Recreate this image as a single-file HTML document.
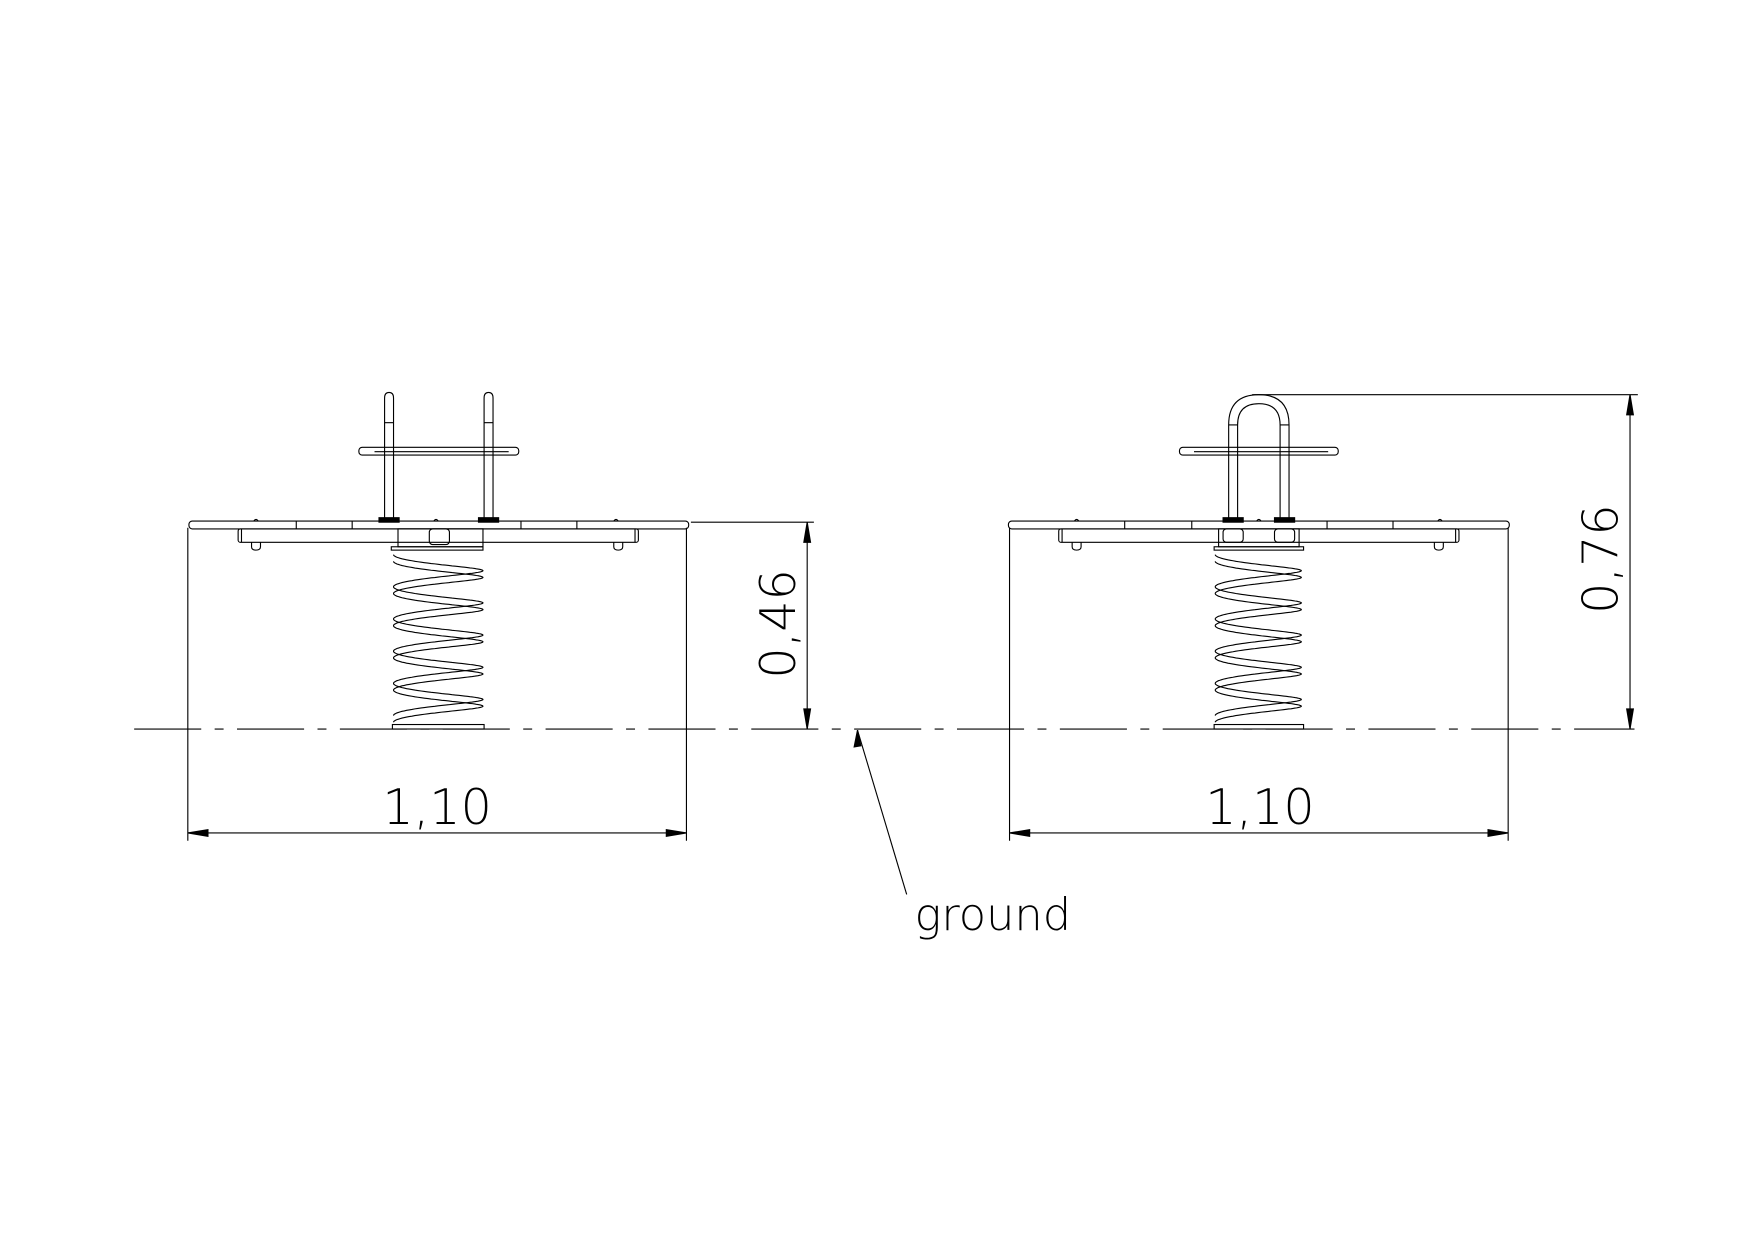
<!DOCTYPE html>
<html><head><meta charset="utf-8"><style>
html,body{margin:0;padding:0;background:#fff;}
svg{display:block;}
text{font-family:"DejaVu Sans","Liberation Sans",sans-serif;fill:#000;font-weight:200;}
</style></head><body>
<svg id="s" width="1753" height="1240" viewBox="0 0 1568 1109" xmlns="http://www.w3.org/2000/svg">
<g fill="none" stroke="#000" stroke-width="1">
<line x1="120" y1="652" x2="1462" y2="652" stroke-dasharray="60,12,8,12"/>
<line x1="767" y1="653" x2="811" y2="800"/>
<polygon points="767,653 764,668 770,667" fill="#000"/>

<line x1="168" y1="472" x2="168" y2="752"/>
<line x1="614" y1="472" x2="614" y2="752"/>
<line x1="168" y1="745" x2="614" y2="745"/>
<polygon points="168,745 186,742 186,748" fill="#000"/>
<polygon points="614,745 596,742 596,748" fill="#000"/>
<line x1="618" y1="467" x2="728" y2="467"/>
<line x1="722" y1="467" x2="722" y2="652"/>
<polygon points="722,467 719,485 725,485" fill="#000"/>
<polygon points="722,652 719,634 725,634" fill="#000"/>
<path d="M344,467 V356 Q344,351 348,351 Q352,351 352,356 V467"/>
<path d="M433,467 V356 Q433,351 437,351 Q441,351 441,356 V467"/>
<line x1="344" y1="378" x2="352" y2="378"/><line x1="433" y1="378" x2="441" y2="378"/>
<rect x="321" y="400" width="143" height="7" rx="3"/>
<line x1="335" y1="404" x2="455" y2="404"/>
<rect x="339" y="463" width="18" height="4" fill="#000"/>
<rect x="428" y="463" width="18" height="4" fill="#000"/>
<rect x="169" y="466" width="447" height="7" rx="3"/>
<line x1="265" y1="466" x2="265" y2="473"/><line x1="315" y1="466" x2="315" y2="473"/><line x1="466" y1="466" x2="466" y2="473"/><line x1="516" y1="466" x2="516" y2="473"/>
<rect x="213" y="473" width="358" height="12" rx="2"/>
<line x1="216" y1="473" x2="216" y2="485"/><line x1="568" y1="473" x2="568" y2="485"/>
<path d="M225,485 v4 q0,3 4,3 q4,0 4,-3 v-4"/><path d="M549,485 v4 q0,3 4,3 q4,0 4,-3 v-4"/>
<path d="M227,466 q2,-3 4,0"/><path d="M388,466 q2,-3 4,0"/><path d="M549,466 q2,-3 4,0"/>
<rect x="356" y="473" width="76" height="16"/>
<rect x="384" y="473" width="18" height="14" rx="3"/>
<rect x="350" y="489" width="82" height="3"/>
<rect x="351" y="648" width="82" height="4"/>
<g id="sp1"></g>

<line x1="903" y1="472" x2="903" y2="752"/>
<line x1="1349" y1="472" x2="1349" y2="752"/>
<line x1="903" y1="745" x2="1349" y2="745"/>
<polygon points="903,745 921,742 921,748" fill="#000"/>
<polygon points="1349,745 1331,742 1331,748" fill="#000"/>
<line x1="1120" y1="353" x2="1465" y2="353"/>
<line x1="1458" y1="353" x2="1458" y2="652"/>
<polygon points="1458,353 1455,371 1461,371" fill="#000"/>
<polygon points="1458,652 1455,634 1461,634" fill="#000"/>
<path d="M1099,467 V380 Q1099,353 1126,353 Q1153,353 1153,380 V467"/>
<path d="M1107,467 V380 Q1107,361 1126,361 Q1145,361 1145,380 V467"/>
<line x1="1099" y1="380" x2="1107" y2="380"/><line x1="1145" y1="380" x2="1153" y2="380"/>
<rect x="1055" y="400" width="142" height="7" rx="3"/>
<line x1="1068" y1="404" x2="1188" y2="404"/>
<rect x="1094" y="463" width="18" height="4" fill="#000"/>
<rect x="1140" y="463" width="18" height="4" fill="#000"/>
<rect x="902" y="466" width="448" height="7" rx="3"/>
<line x1="1006" y1="466" x2="1006" y2="473"/><line x1="1066" y1="466" x2="1066" y2="473"/><line x1="1187" y1="466" x2="1187" y2="473"/><line x1="1246" y1="466" x2="1246" y2="473"/>
<rect x="947" y="473" width="358" height="12" rx="2"/>
<line x1="950" y1="473" x2="950" y2="485"/><line x1="1302" y1="473" x2="1302" y2="485"/>
<path d="M959,485 v4 q0,3 4,3 q4,0 4,-3 v-4"/><path d="M1283,485 v4 q0,3 4,3 q4,0 4,-3 v-4"/>
<path d="M961,466 q2,-3 4,0"/><path d="M1124,466 q2,-3 4,0"/><path d="M1286,466 q2,-3 4,0"/>
<rect x="1090" y="473" width="72" height="16"/>
<rect x="1094" y="473" width="18" height="12" rx="3"/><rect x="1140" y="473" width="18" height="12" rx="3"/>
<rect x="1086" y="489" width="80" height="3"/>
<rect x="1086" y="648" width="80" height="4"/>
<g id="sp2"></g>
</g>
<text x="391" y="737" font-size="44" text-anchor="middle">1,10</text>
<text x="1127" y="737" font-size="44" text-anchor="middle">1,10</text>
<text transform="translate(711,558) rotate(-90)" font-size="44" text-anchor="middle">0,46</text>
<text transform="translate(1447,500) rotate(-90)" font-size="44" text-anchor="middle">0,76</text>
<text x="818" y="832" font-size="40">ground</text>
</svg>
<script>
function spring(id,x1,x2,y0,y1,n){
 var g=document.getElementById(id),cx=(x1+x2)/2,r=(x2-x1)/2-3,pitch=(y1-y0)/n;
 for(var off=0;off<2;off++){
  var d="";
  for(var i=0;i<=n*80;i++){
   var t=i/80*2*Math.PI;
   var x=cx-r*Math.cos(t);
   var y=y0+pitch*t/(2*Math.PI)+1.5*Math.sin(t)+off*6;
   d+=(i?"L":"M")+x.toFixed(1)+","+y.toFixed(1);
  }
  var p=document.createElementNS("http://www.w3.org/2000/svg","path");
  p.setAttribute("d",d);g.appendChild(p);
 }
}
spring("sp1",349,435,496,640,5);
spring("sp2",1084,1167,496,640,5);
</script>
</body></html>
